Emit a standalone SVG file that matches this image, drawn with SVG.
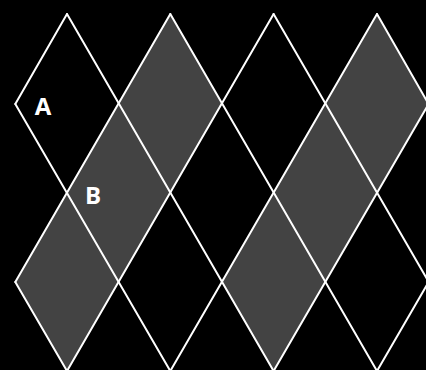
<svg xmlns="http://www.w3.org/2000/svg" width="426" height="370" viewBox="0 0 426 370">
<style>
.g{fill:#434343;stroke:none}
.ln{stroke:#fff;stroke-width:2;fill:none;stroke-linecap:round}
.lbl{font-family:"Open Sans","DejaVu Sans",sans-serif;font-weight:bold;font-size:24px;fill:#fff}
</style>
<rect width="426" height="370" fill="#000"/>
<g id="fills">
<polygon class="g" points="170.3,14 222,104 170.3,193 118.6,104"/>
<polygon class="g" points="118.6,104 170.3,193 118.6,282 67,193"/>
<polygon class="g" points="67,193 118.6,282 67,371 15.3,282"/>
<polygon class="g" points="377,14 428.6,104 377,193 325.3,104"/>
<polygon class="g" points="325.3,104 377,193 325.3,282 273.6,193"/>
<polygon class="g" points="273.6,193 325.3,282 273.6,371 222,282"/>
</g>
<g id="connectors" class="ln">
<line x1="15.3" y1="282" x2="67" y2="371"/>
<line x1="15.3" y1="104" x2="170.3" y2="371"/>
<line x1="67" y1="14" x2="273.6" y2="371"/>
<line x1="170.3" y1="14" x2="377" y2="371"/>
<line x1="273.6" y1="14" x2="480.3" y2="371"/>
<line x1="377" y1="14" x2="428.6" y2="104"/>
<line x1="67" y1="14" x2="15.3" y2="104"/>
<line x1="170.3" y1="14" x2="15.3" y2="282"/>
<line x1="273.6" y1="14" x2="67" y2="371"/>
<line x1="377" y1="14" x2="170.3" y2="371"/>
<line x1="428.6" y1="104" x2="273.6" y2="371"/>
<line x1="428.6" y1="282" x2="377" y2="371"/>
</g>
<g id="A"><text class="lbl" x="43" y="115" text-anchor="middle">A</text></g>
<g id="B"><text class="lbl" x="93" y="204" text-anchor="middle">B</text></g>
</svg>
